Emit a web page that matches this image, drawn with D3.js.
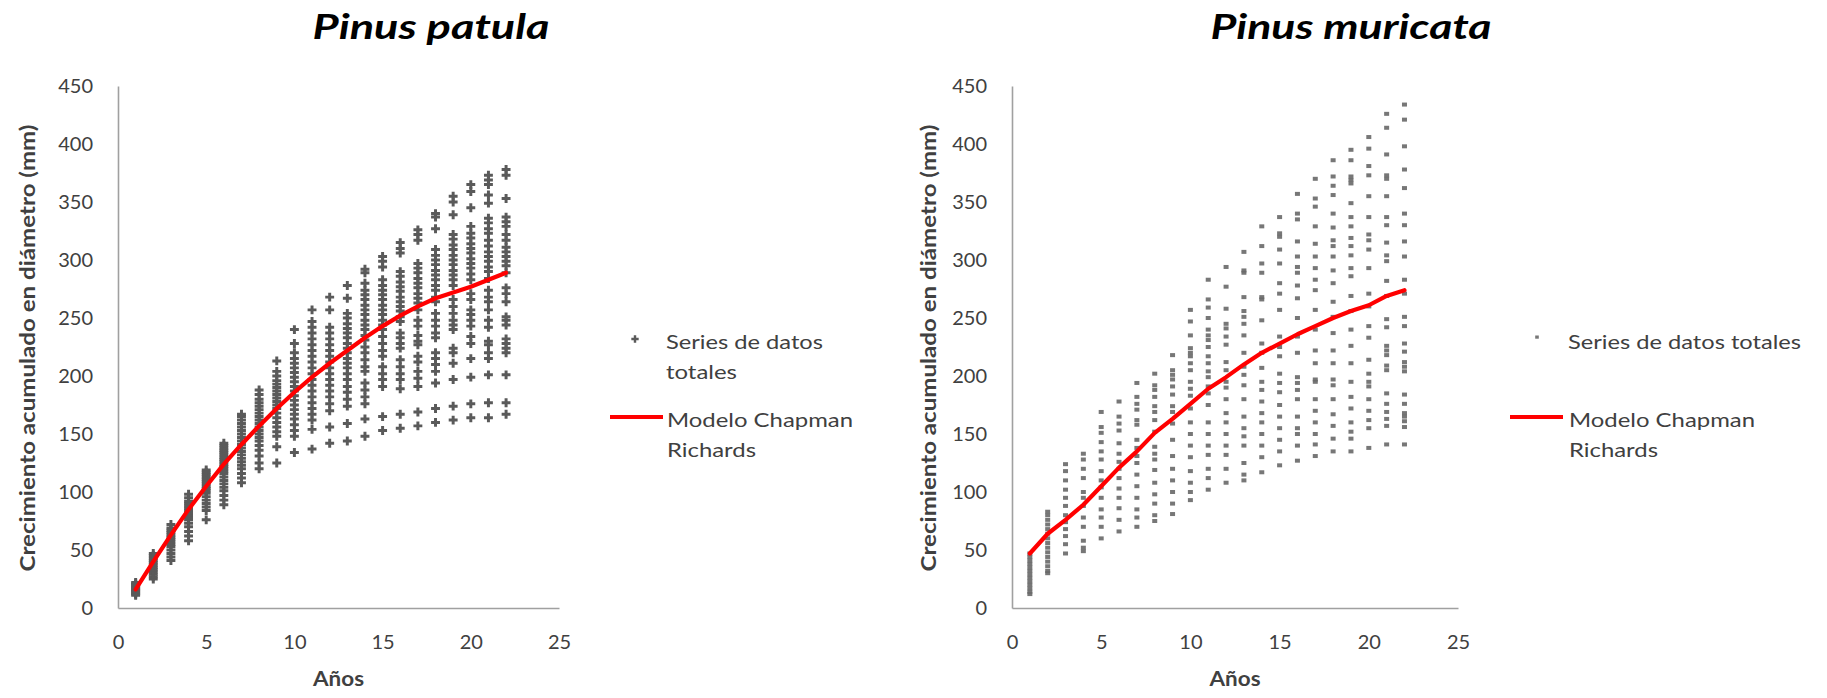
<!DOCTYPE html>
<html><head><meta charset="utf-8">
<script src="https://cdn.jsdelivr.net/npm/d3@7"></script>
<style>
html,body{margin:0;padding:0;background:#fff;}
svg{display:block;}
text{font-family:Lato,"Open Sans",sans-serif;}
</style></head>
<body>
<svg id="chart" width="1827" height="698"></svg>
<script>
// ---------- DATA ----------
const years = [1,2,3,4,5,6,7,8,9,10,11,12,13,14,15,16,17,18,19,20,21,22];
const xTicks = [0,5,10,15,20,25];
const yTicks = [0,50,100,150,200,250,300,350,400,450];

const titleLeft = "Pinus patula";
const titleRight = "Pinus muricata";
const xTitle = "Años";
const yTitle = "Crecimiento acumulado en diámetro (mm)";
const seriesName = "Series de datos totales";
const modelName = "Modelo Chapman Richards";

// Pinus patula: observed cumulative diameter growth (mm), one list per year 1..22
const patulaObs = [
  [11,12,13,14,15,16,17,18,19,20,21,22],
  [25,27,29,31,33,35,37,39,41,43,45,47],
  [41,44,47,50,53,55,57,59,61,63,65,67,69,72],
  [58,62,66,70,73,76,78,80,82,84,86,88,90,92,95,98],
  [76,84,87,90,93,96,99,101,103,105,107,109,111,113,115,117,119],
  [89,93,97,101,104,107,110,113,116,118,120,122,124,126,128,130,132,134,136,138,140,142],
  [108,112,116,120,123,126,129,132,135,138,141,144,147,150,153,156,159,162,165,167],
  [120,125,131,136,140,144,147,150,153,156,159,162,165,168,171,174,177,180,184,188],
  [125,139,148,152,156,160,164,168,172,175,178,181,184,187,190,193,196,200,204,213],
  [134,148,153,158,163,167,171,175,179,183,187,191,195,199,203,207,211,215,220,228,240],
  [137,154,162,167,172,177,182,187,192,197,202,207,212,217,222,227,232,237,242,247,257],
  [142,156,170,176,182,187,192,197,202,207,212,217,222,227,232,237,242,257,268],
  [144,159,174,180,186,191,197,202,207,211,215,220,224,228,233,237,241,245,250,254,267,278],
  [148,163,176,182,188,194,204,208,214,220,225,231,235,240,244,248,253,257,261,266,270,274,280,289,292],
  [153,165,191,197,202,208,217,222,228,234,240,244,248,253,257,261,266,270,274,278,283,294,299,303],
  [155,167,189,197,202,208,214,224,228,233,237,247,251,256,260,264,268,273,277,281,286,290,306,310,315],
  [157,169,191,198,204,212,217,227,230,235,243,248,257,263,267,271,276,280,284,289,293,297,317,322,326],
  [160,172,194,204,210,215,220,233,237,243,248,254,264,268,274,278,283,287,291,296,300,304,309,327,337,340],
  [162,174,197,211,220,224,240,244,248,254,260,266,278,283,287,291,296,300,304,309,313,318,322,339,350,355],
  [164,176,199,215,228,234,243,248,253,257,266,271,283,288,293,297,301,306,310,314,319,323,329,345,359,365],
  [164,177,201,215,220,227,230,242,248,257,264,268,274,284,290,294,299,303,307,312,317,323,327,332,336,349,356,365,369,373],
  [167,177,201,220,224,228,232,244,248,251,264,271,276,289,295,299,303,307,311,317,322,329,333,337,353,373,378]
];
// Pinus patula: Chapman-Richards model values per year
const patulaModel = [16,40,63,85,105,124,141,157,172,186,199,211,222,233,243,252,260,267,272,277,283,289];

// Pinus muricata: observed cumulative diameter growth (mm), one list per year 1..22
const muricataObs = [
  [12,14,17,20,23,26,29,32,35,38,41,44,47],
  [30,32,36,40,44,48,52,56,60,64,68,72,76,80,83],
  [47,55,62,68,74,80,88,95,102,110,118,124],
  [49,52,58,70,78,88,95,100,112,120,128,133],
  [60,70,78,85,95,104,110,118,128,135,143,151,156,169],
  [66,76,86,95,103,112,120,126,133,142,153,159,165,178],
  [70,78,85,95,105,115,125,131,138,145,158,162,171,176,182,194],
  [75,80,90,98,108,119,128,133,139,152,162,169,174,182,188,192,202],
  [81,90,100,110,120,131,145,159,169,174,184,191,197,201,205,218],
  [93,100,108,118,130,140,150,160,172,183,189,195,205,211,217,220,224,235,247,257],
  [102,112,120,132,140,150,160,175,185,191,199,204,211,217,225,231,235,240,250,259,266,283],
  [108,120,132,140,150,160,168,180,190,195,205,212,227,234,241,245,258,277,294],
  [110,115,125,140,148,155,165,180,192,201,208,220,235,245,251,256,268,289,291,307],
  [117,130,140,150,160,168,178,188,195,207,220,228,248,266,268,289,297,312,329],
  [123,135,145,155,165,175,186,194,202,217,225,234,257,271,280,297,309,320,323,337],
  [127,140,150,155,165,180,188,194,199,220,234,250,267,278,289,294,303,316,335,340,357],
  [131,141,150,160,170,180,195,197,211,222,240,257,274,283,293,303,314,329,346,353,370],
  [135,146,157,167,180,192,197,211,222,237,251,264,280,291,303,312,317,328,340,356,364,372,386],
  [135,146,152,160,172,182,195,211,226,240,256,269,286,293,304,312,319,329,337,349,366,369,372,386,395],
  [138,155,162,170,180,191,195,202,214,233,243,260,271,293,309,317,322,337,355,373,381,396,406],
  [141,157,163,169,176,185,205,209,218,222,226,242,249,269,282,299,304,315,330,337,355,370,373,391,414,426],
  [141,156,161,165,168,176,184,204,208,212,221,228,243,251,271,283,303,316,330,340,362,378,398,421,434]
];
// Pinus muricata: Chapman-Richards model values per year
const muricataModel = [47,64,76,89,105,121,135,151,163,176,189,199,210,220,228,236,243,250,256,261,269,274];

// ---------- DRAW ----------
const svg = d3.select("#chart");
const TXT = "#404040";

function fitText(sel, w) {
  sel.attr("textLength", w).attr("lengthAdjust", "spacingAndGlyphs");
}

function panel(cfg) {
  const x = d3.scaleLinear().domain([0, 25]).range([cfg.x0, cfg.x1]);
  const y = d3.scaleLinear().domain([0, 450]).range([608, 86]);
  const g = svg.append("g");

  // axes
  const xa = g.append("g").attr("transform", "translate(0,608)")
    .call(d3.axisBottom(x).tickValues(xTicks).tickSize(0).tickPadding(27).tickFormat(d3.format("d")));
  const ya = g.append("g").attr("transform", `translate(${cfg.x0},0)`)
    .call(d3.axisLeft(y).tickValues(yTicks).tickSize(0).tickPadding(25).tickFormat(d3.format("d")));
  [xa, ya].forEach(a => {
    a.select(".domain").attr("stroke", "#a0a0a0").attr("stroke-width", 1.6);
    a.selectAll("text").attr("fill", TXT).style("font-size", "20px").style("font-family", "Lato, sans-serif");
  });

  // observations
  const pts = [];
  cfg.obs.forEach((vals, i) => vals.forEach(v => pts.push({yr: years[i], v})));
  if (cfg.marker === "cross") {
    g.append("g").selectAll("path").data(pts).join("path")
      .attr("d", d3.symbol().type(d3.symbolCross).size(44))
      .attr("transform", d => `translate(${x(d.yr)},${y(d.v)})`)
      .attr("fill", "#5a5a5a");
  } else {
    g.append("g").selectAll("rect").data(pts).join("rect")
      .attr("x", d => x(d.yr) - 2.5).attr("y", d => y(d.v) - 2)
      .attr("width", 5).attr("height", 4)
      .attr("fill", "#686868").attr("opacity", 0.9);
  }

  // model line
  const line = d3.line().x((d, i) => x(years[i])).y(d => y(d));
  g.append("path").datum(cfg.model).attr("d", line)
    .attr("fill", "none").attr("stroke", "#ff0000").attr("stroke-width", 4.2)
    .attr("stroke-linejoin", "round").attr("stroke-linecap", "round");

  // title
  g.append("text").text(cfg.title).attr("x", cfg.titleX).attr("y", 39)
    .attr("text-anchor", "middle").attr("fill", "#000")
    .style("font-size", "34px").style("font-weight", "bold").style("font-style", "italic")
    .call(fitText, cfg.titleW);

  // axis titles
  g.append("text").text(xTitle).attr("x", (cfg.x0 + cfg.x1) / 2).attr("y", 686)
    .attr("text-anchor", "middle").attr("fill", TXT)
    .style("font-size", "20px").style("font-weight", "bold")
    .call(fitText, 51);
  g.append("text").text(yTitle)
    .attr("transform", `translate(${cfg.yTitleX},348) rotate(-90)`)
    .attr("text-anchor", "middle").attr("dy", "0.35em").attr("fill", TXT)
    .style("font-size", "20px").style("font-weight", "bold")
    .call(fitText, 447);

  // legend
  const lg = g.append("g");
  if (cfg.marker === "cross") {
    lg.append("path").attr("d", d3.symbol().type(d3.symbolCross).size(30))
      .attr("transform", `translate(${cfg.lgMarkX},339)`).attr("fill", "#5a5a5a");
  } else {
    lg.append("rect").attr("x", cfg.lgMarkX - 1.8).attr("y", 335.5).attr("width", 3.6).attr("height", 3.2)
      .attr("fill", "#777");
  }
  cfg.lgSeries.forEach((t, i) => {
    lg.append("text").text(t.s).attr("x", cfg.lgTextX).attr("y", 349 + i * 30)
      .attr("fill", TXT).style("font-size", "20px").call(fitText, t.w);
  });
  lg.append("line").attr("x1", cfg.lgLineX0).attr("x2", cfg.lgLineX0 + 53)
    .attr("y1", 417).attr("y2", 417).attr("stroke", "#ff0000").attr("stroke-width", 4.2);
  const mw = modelName.split(" ");
  [[mw[0] + " " + mw[1], 186], [mw[2], 89]].forEach((t, i) => {
    lg.append("text").text(t[0]).attr("x", cfg.lgTextX + 1).attr("y", 427 + i * 30)
      .attr("fill", TXT).style("font-size", "20px").call(fitText, t[1]);
  });
}

const sw = seriesName.split(" ");
panel({
  x0: 118, x1: 559, obs: patulaObs, model: patulaModel, marker: "cross",
  title: titleLeft, titleX: 431, titleW: 237, yTitleX: 28,
  lgMarkX: 635, lgTextX: 666, lgLineX0: 610,
  lgSeries: [{s: sw.slice(0, 3).join(" "), w: 157}, {s: sw[3], w: 71}]
});
panel({
  x0: 1012, x1: 1458, obs: muricataObs, model: muricataModel, marker: "square",
  title: titleRight, titleX: 1351, titleW: 281, yTitleX: 929,
  lgMarkX: 1537, lgTextX: 1568, lgLineX0: 1510,
  lgSeries: [{s: seriesName, w: 233}]
});
</script>
</body></html>
